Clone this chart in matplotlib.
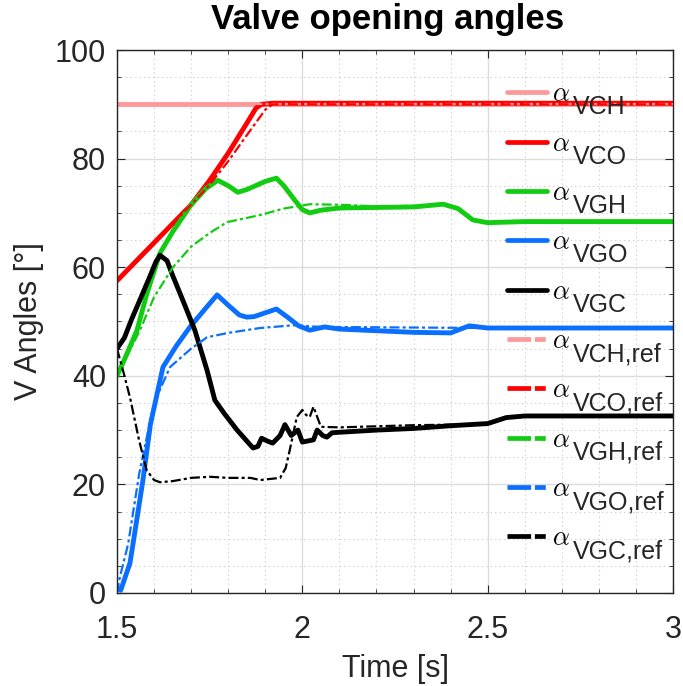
"""Valve opening angles: measured vs reference trajectories."""

import numpy as np
import matplotlib
matplotlib.use("Agg")
import matplotlib.pyplot as plt
from matplotlib.ticker import MultipleLocator

plt.rcParams["font.family"] = ["Liberation Sans", "DejaVu Sans"]
plt.rcParams["mathtext.fontset"] = "cm"

# ---------------------------------------------------------------------------
# Data
# ---------------------------------------------------------------------------

t_vch = [1.5, 3.0]
vch = [90, 90]

t_vco = [1.5, 1.55, 1.6, 1.65, 1.7, 1.75, 1.8, 1.85, 1.875, 1.89, 1.92, 3.0]
vco = [57.5, 61, 64.5, 68, 71.5, 76, 81, 86.5, 89.3, 90, 90.2, 90.2]

t_vgh = [1.5, 1.52, 1.554, 1.58, 1.616, 1.65, 1.7, 1.74, 1.772, 1.8, 1.826,
         1.85, 1.867, 1.9, 1.93, 1.95, 1.98, 2.0, 2.02, 2.05, 2.1, 2.2, 2.3,
         2.38, 2.42, 2.46, 2.5, 2.6, 3.0]
vgh = [40, 43, 48.4, 55, 62.6, 66.5, 71.5, 74.5, 76, 75, 73.8, 74.3, 74.8,
       75.8, 76.4, 75, 72.3, 70.6, 70, 70.5, 70.9, 71, 71.1, 71.6, 70.8, 68.7,
       68.2, 68.4, 68.4]

t_vgo = [1.5, 1.51, 1.535, 1.55, 1.57, 1.59, 1.624, 1.66, 1.697, 1.74, 1.77,
         1.8, 1.83, 1.85, 1.87, 1.9, 1.93, 1.96, 1.99, 2.02, 2.06, 2.1, 2.2,
         2.3, 2.4, 2.45, 2.5, 3.0]
vgo = [1, 0.5, 5.5, 12, 20.8, 31, 41.6, 45.5, 49, 52.5, 54.9, 53, 51.2, 50.8,
       50.9, 51.6, 52.3, 50.8, 49.2, 48.4, 49, 48.6, 48.3, 48, 47.9, 49.2,
       48.8, 48.8]

t_vgc = [1.5, 1.52, 1.54, 1.562, 1.59, 1.605, 1.616, 1.635, 1.65, 1.68, 1.71,
         1.743, 1.764, 1.79, 1.824, 1.85, 1.867, 1.88, 1.89, 1.905, 1.92, 1.94,
         1.953, 1.97, 1.988, 2.0, 2.015, 2.03, 2.04, 2.055, 2.066, 2.08, 2.1,
         2.2, 2.3, 2.4, 2.5, 2.55, 2.6, 3.0]
vgc = [45, 47, 50.5, 54, 58.5, 61, 62.2, 61.2, 58.5, 53.5, 48.4, 41, 35.5, 33,
       30, 28, 26.7, 27, 28.5, 28, 27.6, 29, 31, 29, 30, 27.8, 28, 28.2, 30,
       29, 28.7, 29.5, 29.6, 30, 30.3, 30.8, 31.2, 32.3, 32.6, 32.6]

# reference signals
t_vch_ref = [1.5, 3.0]
vch_ref = [90, 90]

t_vco_ref = [1.5, 1.55, 1.6, 1.65, 1.7, 1.75, 1.8, 1.85, 1.9, 1.92, 3.0]
vco_ref = [57.5, 61, 64.5, 68, 71.5, 75.2, 79.5, 84.3, 89, 90, 90]

t_vgh_ref = [1.5, 1.562, 1.6, 1.651, 1.7, 1.75, 1.797, 1.886, 1.95, 2.02,
             2.1, 2.2, 2.3, 2.38, 2.42, 2.46, 2.5, 3.0]
vgh_ref = [40, 48.4, 54.5, 60, 63.8, 66.3, 68.3, 69.6, 70.8, 71.6, 71.5,
           71.2, 71.3, 71.6, 70.8, 68.7, 68.2, 68.4]

t_vgo_ref = [1.5, 1.508, 1.53, 1.56, 1.6, 1.643, 1.7, 1.743, 1.8, 1.886,
             1.975, 2.05, 2.5, 3.0]
vgo_ref = [0, 3, 9, 22, 35, 41.6, 45, 47.1, 47.9, 48.8, 49.3, 49, 48.8, 48.8]

t_vgc_ref = [1.5, 1.52, 1.535, 1.56, 1.58, 1.6, 1.616, 1.65, 1.7, 1.75, 1.8,
             1.86, 1.886, 1.94, 1.955, 1.966, 1.985, 2.0, 2.01, 2.02, 2.03,
             2.05, 2.1, 2.2, 2.3, 2.4, 2.5, 2.55, 2.6, 3.0]
vgc_ref = [45, 40, 36, 28, 22.6, 20.8, 20.4, 20.6, 21.2, 21.4, 21.2, 21.2,
           20.8, 21.2, 23, 26.3, 32.4, 33.7, 32.8, 32.4, 34.3, 30.6, 30.5, 30.7,
           30.9, 31, 31.2, 32.3, 32.6, 32.6]

names = ["VCH", "VCO", "VGH", "VGO", "VGC"]
colors = ["#FF9999", "#FF0000", "#11CC11", "#0A6EFF", "#000000"]

measured = [(t_vch, vch), (t_vco, vco), (t_vgh, vgh), (t_vgo, vgo), (t_vgc, vgc)]
reference = [(t_vch_ref, vch_ref), (t_vco_ref, vco_ref), (t_vgh_ref, vgh_ref),
             (t_vgo_ref, vgo_ref), (t_vgc_ref, vgc_ref)]

# ---------------------------------------------------------------------------
# Figure
# ---------------------------------------------------------------------------

W, H = 683, 686
fig = plt.figure(figsize=(W / 100, H / 100), dpi=100)
ax = fig.add_axes([0.1713, 0.1356, 0.8141, 0.7915])

subs = []
for (t, y), name, c in zip(measured, names, colors):
    ax.plot(t, y, color=c, lw=3.5, solid_capstyle="round",
            solid_joinstyle="round", label=r"$\alpha$")
    subs.append(name)
for (t, y), name, c in zip(reference, names, colors):
    ax.plot(t, y, color=c, lw=1.6, linestyle=(0, (4.5, 1.4, 1.4, 1.4)),
            label=r"$\alpha$")
    subs.append(name + ",ref")

ax.set_xlim(1.5, 3)
ax.set_ylim(0, 100)
ax.xaxis.set_major_locator(MultipleLocator(0.5))
ax.xaxis.set_minor_locator(MultipleLocator(0.1))
ax.yaxis.set_major_locator(MultipleLocator(20))
ax.yaxis.set_minor_locator(MultipleLocator(5))
ax.set_xticks([1.5, 2, 2.5, 3])
ax.set_xticklabels(["1.5", "2", "2.5", "3"])

ax.grid(True, which="major", color="#DCDCDC", lw=1.0)
ax.grid(True, which="minor", color="#C8C8C8", lw=0.8, linestyle=(0, (1, 3)))
ax.set_axisbelow(True)

ax.tick_params(which="both", direction="in", top=True, right=True,
               colors="#262626", labelsize=22)
ax.tick_params(axis="x", pad=16)
ax.tick_params(axis="y", pad=8)
ax.tick_params(which="major", length=6)
ax.tick_params(which="minor", length=3)
for sp in ax.spines.values():
    sp.set_color("#262626")
    sp.set_linewidth(1.0)

ax.set_xlabel("Time [s]", fontsize=22, color="#262626", labelpad=6)
ax.set_ylabel("V Angles [°]", fontsize=22, color="#262626", labelpad=8)
ax.set_title("Valve opening angles", fontsize=25, fontweight="bold", pad=15,
             x=0.4865)

# MATLAB-style legend: alpha with full-size sans subscript
leg = ax.legend(loc="upper left", bbox_to_anchor=(0.702, 0.94), frameon=False,
                fontsize=19, handlelength=1.5, handletextpad=0.2,
                labelspacing=0.96, borderaxespad=0.0, borderpad=0.0)
for hnd in leg.legend_handles:
    hnd.set_linewidth(3.4)
for hnd in leg.legend_handles[5:]:
    hnd.set_linestyle((0, (5, 0.8, 2.3, 5)))
    hnd.set_dash_capstyle("butt")

fig.canvas.draw()
renderer = fig.canvas.get_renderer()
for txt, hnd, sub in zip(leg.get_texts(), leg.legend_handles, subs):
    bb = txt.get_window_extent(renderer)
    hb = hnd.get_window_extent(renderer)
    yc = 0.5 * (hb.y0 + hb.y1)
    fig.text((bb.x1 + 3) / W, (yc - 22) / H, sub, fontsize=18,
             va="baseline", ha="left", color="#262626")

fig.savefig("out.png", dpi=100)
